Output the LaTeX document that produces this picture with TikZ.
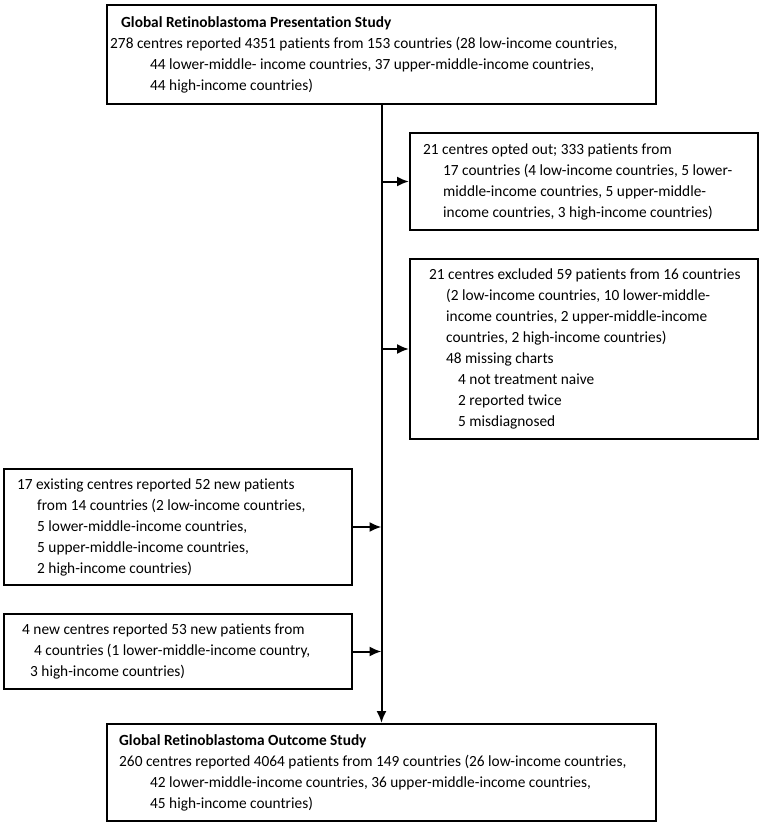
\documentclass[tikz,border=0pt]{standalone}
\usepackage{fontspec}
\setmainfont{Carlito}[FakeStretch=0.99, Ligatures=NoCommon]
\usetikzlibrary{arrows.meta}

\tikzstyle{box} = [draw, line width=2pt, anchor=north west, inner sep=0pt]
\tikzstyle{txt} = [anchor=west, align=left, inner sep=0pt, font=\fontsize{15.5}{21}\selectfont]
\tikzstyle{flow} = [line width=2pt, -{Latex[length=12pt,width=10pt]}]

\newcommand{\hind}{\hspace*{20pt}}

\begin{document}
\begin{tikzpicture}[x=1pt, y=-1pt]
\useasboundingbox (0,0) rectangle (761,825);

% Presentation study
\node[box, minimum width=549pt, minimum height=99pt] (present) at (106,4) {};
\node[txt] (presenttxt) at ([xshift=4pt]present.west)
{\hspace*{11pt}\textbf{Global Retinoblastoma Presentation Study}\\
278 centres reported 4351 patients from 153 countries (28 low-income countries,\\
\hspace*{40pt}44 lower-middle- income countries, 37 upper-middle-income countries,\\
\hspace*{40pt}44 high-income countries)};

% opted out
\node[box, minimum width=348pt, minimum height=97pt] (optout) at (409,132) {};
\node[txt] (optouttxt) at ([xshift=14pt]optout.west)
{21 centres opted out; 333 patients from\\
\hind 17 countries (4 low-income countries, 5 lower-\\
\hind middle-income countries, 5 upper-middle-\\
\hind income countries, 3 high-income countries)};

% excluded
\node[box, minimum width=348pt, minimum height=180pt] (exclude) at (409,258) {};
\node[txt] (excludetxt) at ([xshift=20pt]exclude.west)
{21 centres excluded 59 patients from 16 countries\\
\hspace*{17pt}(2 low-income countries, 10 lower-middle-\\
\hspace*{17pt}income countries, 2 upper-middle-income\\
\hspace*{17pt}countries, 2 high-income countries)\\
\hspace*{17pt}48 missing charts\\
\hspace*{29pt}4 not treatment naive\\
\hspace*{29pt}2 reported twice\\
\hspace*{29pt}5 misdiagnosed};

% existing centres
\node[box, minimum width=348pt, minimum height=116pt] (existing) at (3,468) {};
\node[txt] (existingtxt) at ([xshift=14pt]existing.west)
{17 existing centres reported 52 new patients\\
\hind from 14 countries (2 low-income countries,\\
\hind 5 lower-middle-income countries,\\
\hind 5 upper-middle-income countries,\\
\hind 2 high-income countries)};

% new centres
\node[box, minimum width=348pt, minimum height=75pt] (newcentres) at (3,613) {};
\node[txt] (newcentrestxt) at ([xshift=19pt]newcentres.west)
{4 new centres reported 53 new patients from\\
\hspace*{12pt}4 countries (1 lower-middle-income country,\\
\hspace*{8pt}3 high-income countries)};

% Outcome study
\node[box, minimum width=549pt, minimum height=97pt] (outcome) at (106,723) {};
\node[txt] (outcometxt) at ([xshift=13pt]outcome.west)
{\textbf{Global Retinoblastoma Outcome Study}\\
260 centres reported 4064 patients from 149 countries (26 low-income countries,\\
\hspace*{31pt}42 lower-middle-income countries, 36 upper-middle-income countries,\\
\hspace*{31pt}45 high-income countries)};

% trunk and branches
\draw[flow] (present.south) -- (outcome.north);
\draw[flow] (present.south |- optout.west) -- (optout.west);
\draw[flow] (present.south |- exclude.west) -- (exclude.west);
\draw[flow] (existing.east) -- (existing.east -| present.south);
\draw[flow] (newcentres.east) -- (newcentres.east -| present.south);

\end{tikzpicture}
\end{document}
